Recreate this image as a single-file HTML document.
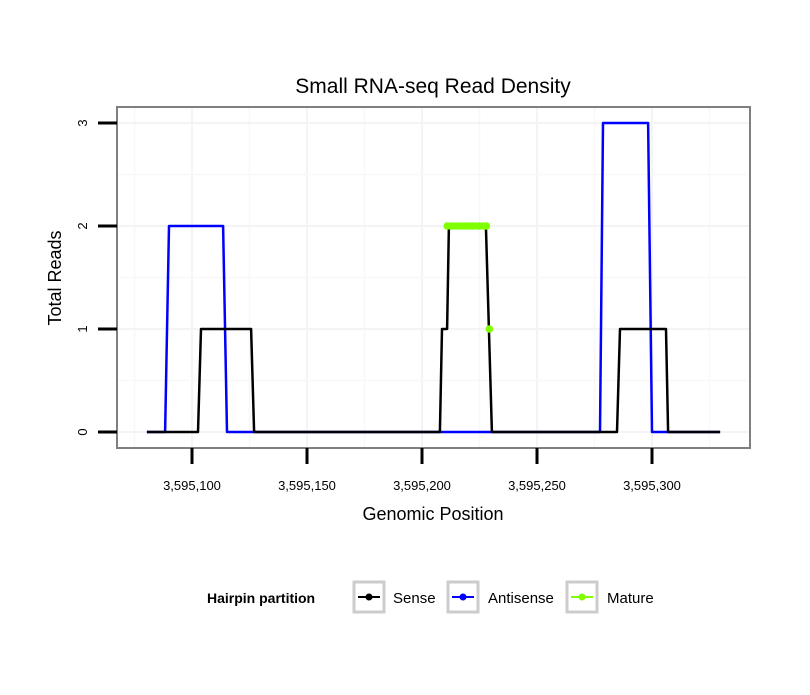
<!DOCTYPE html>
<html><head><meta charset="utf-8"><style>
body{margin:0;background:#fff;font-family:"Liberation Sans",sans-serif}
</style></head><body>
<svg id="chart" width="810" height="690" xmlns="http://www.w3.org/2000/svg" font-family="Liberation Sans, sans-serif">
<rect width="810" height="690" fill="#fff"/>
<text x="433" y="93" font-size="21" text-anchor="middle">Small RNA-seq Read Density</text>
<g id="grid"></g>
<g id="series"></g>
<rect x="117" y="107" width="633" height="341" fill="none" stroke="#7f7f7f" stroke-width="2"/>
<g id="axes"></g>
<text x="433" y="520" font-size="18" text-anchor="middle">Genomic Position</text>
<text transform="translate(61,278) rotate(-90)" font-size="18" text-anchor="middle">Total Reads</text>
<g>
<text x="207" y="603" font-size="14" font-weight="bold">Hairpin partition</text>
<g>
<rect x="354" y="582" width="30" height="30" fill="#fff" stroke="#ccc" stroke-width="3"/>
<line x1="358" y1="597" x2="380" y2="597" stroke="#000" stroke-width="2"/><circle cx="369" cy="597" r="3.5" fill="#000"/>
<text x="393" y="603" font-size="15">Sense</text></g>
<g>
<rect x="448" y="582" width="30" height="30" fill="#fff" stroke="#ccc" stroke-width="3"/>
<line x1="452" y1="597" x2="474" y2="597" stroke="#00f" stroke-width="2"/><circle cx="463" cy="597" r="3.5" fill="#00f"/>
<text x="488" y="603" font-size="15">Antisense</text></g>
<g>
<rect x="567" y="582" width="30" height="30" fill="#fff" stroke="#ccc" stroke-width="3"/>
<line x1="571" y1="597" x2="593" y2="597" stroke="#7fff00" stroke-width="2"/><circle cx="582" cy="597" r="3.5" fill="#7fff00"/>
<text x="607" y="603" font-size="15">Mature</text></g>
</g>
</svg>
<script>
const xTicks=[3595100,3595150,3595200,3595250,3595300];
const xTickLabels=["3,595,100","3,595,150","3,595,200","3,595,250","3,595,300"];
const yTicks=[0,1,2,3];
const yTickLabels=["0","1","2","3"];
const senseX=[3595080.4,3595102.6,3595103.9,3595125.7,3595127.0,3595207.8,3595208.7,3595210.9,3595211.7,3595227.8,3595229.1,3595230.4,3595284.8,3595286.1,3595306.1,3595307.0,3595329.6];
const senseY=[0,0,1,1,0,0,1,1,2,2,1,0,0,1,1,0,0];
const antiX=[3595080.4,3595088.3,3595090.0,3595113.5,3595115.2,3595277.4,3595278.7,3595298.3,3595300.0,3595329.6];
const antiY=[0,0,2,2,0,0,3,3,0,0];
const matureX=[3595211.0,3595213,3595216,3595219,3595222,3595225,3595228.0,3595229.3];
const matureY=[2,2,2,2,2,2,2,1];
const NS="http://www.w3.org/2000/svg";
const sx=v=>192+(v-3595100)*2.3;
const sy=v=>432-v*103;
function mk(tag,attrs,parent){const e=document.createElementNS(NS,tag);for(const k in attrs)e.setAttribute(k,attrs[k]);document.getElementById(parent).appendChild(e);return e;}
for(let v=3595075;v<=3595325;v+=25){const e=mk('line',{x1:sx(v),x2:sx(v),y1:108,y2:447,stroke:(v%50===0)?'#f4f4f4':'#f8f8f8','stroke-width':(v%50===0)?2:1.5},'grid');

}
for(let v=0;v<=3;v+=0.5){const e=mk('line',{x1:118,x2:749,y1:sy(v),y2:sy(v),stroke:(v%1===0)?'#f4f4f4':'#f8f8f8','stroke-width':(v%1===0)?2:1.5},'grid');

}
function line(xs,ys,color,name,w,cap){const d=xs.map((x,i)=>(i?'L':'M')+sx(x).toFixed(1)+','+sy(ys[i]).toFixed(1)).join('');
const e=mk('path',{d:d,fill:'none',stroke:color,'stroke-width':w,'stroke-linejoin':'round','stroke-linecap':cap||'butt'},'series');

}
line(antiX,antiY,'#0000ff','antisense-line',2.5);
line(senseX,senseY,'#000','sense-line',2.5);
line(matureX.slice(0,7),matureY.slice(0,7),'#7fff00','mature-line',7,'round');
matureX.forEach((x,i)=>{const c=mk('circle',{cx:sx(x),cy:sy(matureY[i]),r:3.8,fill:'#7fff00'},'series');

});
xTicks.forEach((v,i)=>{const t=mk('line',{x1:sx(v),x2:sx(v),y1:448,y2:464,stroke:'#000','stroke-width':3},'axes');


const l=mk('text',{x:sx(v),y:490,'font-size':13,'text-anchor':'middle'},'axes');l.textContent=xTickLabels[i];

});
yTicks.forEach((v,i)=>{const t=mk('line',{x1:98,x2:117,y1:sy(v),y2:sy(v),stroke:'#000','stroke-width':3},'axes');


const l=mk('text',{transform:`translate(87,${sy(v)}) rotate(-90)`,'font-size':13,'text-anchor':'middle'},'axes');l.textContent=yTickLabels[i];

});
</script>
</body></html>
